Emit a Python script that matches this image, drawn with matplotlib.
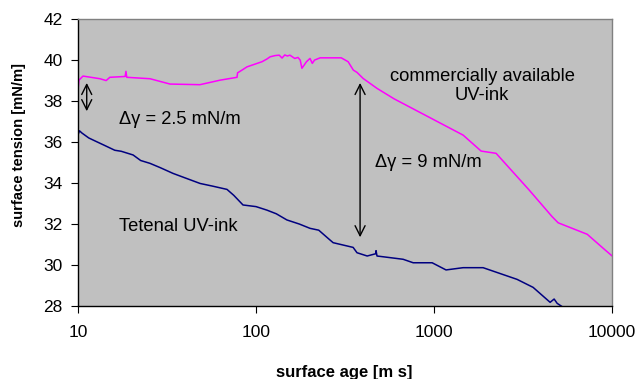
import matplotlib
matplotlib.use("Agg")
import matplotlib.pyplot as plt

plt.rcParams['font.family'] = ['Liberation Sans', 'DejaVu Sans']

# commercially available UV-ink (magenta)
comm_x = [10, 10.13, 10.67, 13.3, 14.4, 15.1, 18.4, 18.6, 18.8, 25.4, 32.9, 48.4, 62.8,
          78.2, 78.8, 81.3, 89, 108, 115, 120, 128, 135, 140, 145, 150, 155, 165, 172,
          177, 181, 192, 201, 207, 213, 229, 250, 301, 329, 352, 369, 400, 478, 596,
          1455, 1837, 2230, 3418, 4600, 4975, 7244, 9141, 10000]
comm_y = [38.54, 39.02, 39.22, 39.09, 39.0, 39.16, 39.2, 39.45, 39.16, 39.09, 38.83, 38.8,
          39.02, 39.16, 39.38, 39.45, 39.67, 39.92, 40.05, 40.16, 40.22, 40.24, 40.1, 40.25,
          40.2, 40.24, 40.08, 40.13, 40.0, 39.6, 39.92, 40.08, 39.84, 40.0, 40.11, 40.11,
          40.11, 39.92, 39.51, 39.4, 39.1, 38.62, 38.11, 36.34, 35.56, 35.45, 33.66,
          32.36, 32.06, 31.5, 30.73, 30.44]

# Tetenal UV-ink (navy)
tet_x = [10, 10.2, 10.53, 11.5, 12.79, 14.0, 16.1, 17.5, 20.4, 22.5, 25.4, 29.0, 34.2,
         40.0, 48.5, 57.0, 68.7, 75.0, 84.5, 100, 115, 130, 149, 175, 201, 225, 254, 271,
         351, 369, 421, 470, 472, 478, 670, 763, 975, 1167, 1455, 1884, 2924, 3597,
         4483, 4722, 4910, 5235]
tet_y = [36.35, 36.55, 36.44, 36.2, 36.01, 35.85, 35.6, 35.55, 35.37, 35.1, 34.96, 34.75,
         34.47, 34.25, 33.98, 33.85, 33.69, 33.4, 32.93, 32.85, 32.68, 32.5, 32.2, 32.0,
         31.79, 31.7, 31.3, 31.09, 30.86, 30.6, 30.44, 30.55, 30.7, 30.44, 30.28, 30.11,
         30.11, 29.76, 29.87, 29.87, 29.3, 28.91, 28.18, 28.34, 28.13, 27.97]

x_ticks = [10, 100, 1000, 10000]
y_ticks = [28, 30, 32, 34, 36, 38, 40, 42]

fig = plt.figure(figsize=(6.39, 3.79), dpi=100)
ax = fig.add_axes([0.122, 0.1926, 0.836, 0.757])
ax.set_facecolor('#C0C0C0')

ax.plot(comm_x, comm_y, color='#FF00FF', lw=1.1)
ax.plot(tet_x, tet_y, color='#000080', lw=1.1)

ax.set_xscale('log')
ax.set_xlim(10, 10000)
ax.set_ylim(28, 42)
ax.set_xticks(x_ticks)
ax.set_xticklabels([str(v) for v in x_ticks])
ax.set_yticks(y_ticks)
ax.set_yticklabels([str(v) for v in y_ticks])
ax.minorticks_off()
ax.tick_params(axis='both', labelsize=12.5, direction='out', length=5, width=0.8, color='black')
ax.tick_params(axis='x', pad=9)
ax.tick_params(axis='y', pad=6)

for s in ['top', 'right']:
    ax.spines[s].set_color('#808080')
    ax.spines[s].set_linewidth(1.0)
for s in ['left', 'bottom']:
    ax.spines[s].set_color('black')
    ax.spines[s].set_linewidth(1.0)

ax.set_ylabel('surface tension [mN/m]', fontsize=10.6, fontweight='bold')
ax.yaxis.set_label_coords(-0.097, 0.561)
fig.text(344 / 639, 1 - 372 / 379, 'surface age [m s]', fontsize=12, fontweight='bold',
         ha='center', va='center')

# annotations
ax.annotate('', xy=(11.2, 37.37), xytext=(11.2, 39.02),
            arrowprops=dict(arrowstyle='<->', color='black', lw=1.0, mutation_scale=18))
ax.annotate('', xy=(384, 31.22), xytext=(384, 39.02),
            arrowprops=dict(arrowstyle='<->', color='black', lw=1.0, mutation_scale=18))
ax.text(17.0, 37.12, 'Δγ = 2.5 mN/m', fontsize=13.2, va='center', ha='left')
ax.text(466, 34.98, 'Δγ = 9 mN/m', fontsize=13.2, va='center', ha='left')
ax.text(1863, 38.73, 'commercially available\nUV-ink', fontsize=13.2, va='center', ha='center',
        linespacing=1.2)
ax.text(17.0, 31.9, 'Tetenal UV-ink', fontsize=13.2, va='center', ha='left')

fig.savefig('out.png', dpi=100)
